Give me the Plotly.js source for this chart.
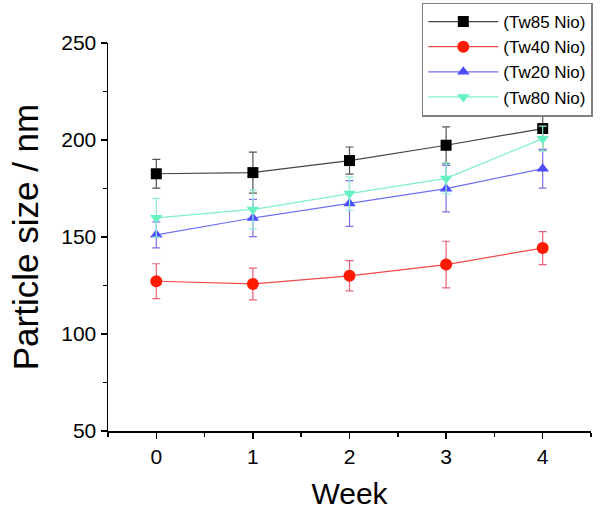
<!DOCTYPE html>
<html>
<head>
<meta charset="utf-8">
<script src="https://cdn.plot.ly/plotly-3.0.1.min.js"></script>
<style>html,body{margin:0;padding:0;background:#fff;}#chart{width:600px;height:514px;}</style>
</head>
<body>
<div id="chart"></div>
<script>
var weeks = [0, 1, 2, 3, 4];
var seriesNames = ["(Tw85 Nio)", "(Tw40 Nio)", "(Tw20 Nio)", "(Tw80 Nio)"];
var tw85 = [182.6, 183.2, 189.4, 197.3, 205.9];
var tw85Err = [7.4, 10.6, 7.0, 9.5, 11.0];
var tw40 = [127.2, 125.8, 130.0, 135.8, 144.3];
var tw40Err = [9.0, 8.2, 7.8, 12.0, 8.5];
var tw20 = [151.1, 159.8, 167.3, 174.9, 185.2];
var tw20Err = [6.7, 9.6, 11.8, 12.0, 10.0];
var tw80 = [159.9, 164.2, 172.4, 180.2, 200.7];
var tw80Err = [10.0, 10.0, 8.6, 8.0, 6.5];

var markerColors = ["#000000", "#ff1a00", "#4d4dff", "#66f2c0"];
var lineColors = ["#444444", "#f04a4a", "#7070f0", "#7ff0c8"];
var errColors = ["#555555", "#e8607a", "#7a70e8", "#8ff0d0"];
var symbols = ["square", "circle", "triangle-up", "triangle-down"];
var values = [tw85, tw40, tw20, tw80];
var errs = [tw85Err, tw40Err, tw20Err, tw80Err];

var traces = values.map(function (v, i) {
  return {
    x: weeks, y: v, name: seriesNames[i], type: "scatter", mode: "lines+markers",
    line: {color: lineColors[i], width: 1.2},
    marker: {color: markerColors[i], symbol: symbols[i], size: i === 1 ? 12 : 11, line: {width: 0}},
    error_y: {type: "data", array: errs[i], visible: true, color: errColors[i], thickness: 1.2, width: 4}
  };
});

var font = "Liberation Sans, Arial, sans-serif";
var layout = {
  width: 600, height: 514,
  margin: {l: 108, r: 9, t: 43, b: 83, autoexpand: false},
  paper_bgcolor: "#fff", plot_bgcolor: "#fff",
  font: {family: font, color: "#000"},
  showlegend: true,
  legend: {
    xref: "container", yref: "container",
    x: 0.988, y: 0.995, xanchor: "right", yanchor: "top",
    bordercolor: "#808080", borderwidth: 1.5, bgcolor: "#fff",
    font: {size: 17, family: font, color: "#000"},
    tracegroupgap: 0, itemwidth: 70
  },
  xaxis: {
    range: [-0.5, 4.5], tickvals: weeks, ticktext: weeks.map(String),
    showgrid: false, zeroline: false, showline: true, linecolor: "#000", linewidth: 1.5,
    ticks: "outside", ticklen: 6, tickwidth: 1.5, tickcolor: "#000",
    tickfont: {size: 21, family: font},
    minor: {dtick: 0.5, tick0: 0.5, ticks: "outside", ticklen: 4, tickwidth: 1.5, tickcolor: "#000"},
    title: {text: "Week", font: {size: 30, family: font}, standoff: 16}
  },
  yaxis: {
    range: [50, 250], tickvals: [50, 100, 150, 200, 250],
    showgrid: false, zeroline: false, showline: true, linecolor: "#000", linewidth: 1.5,
    ticks: "outside", ticklen: 6, tickwidth: 1.5, tickcolor: "#000",
    tickfont: {size: 21, family: font},
    minor: {dtick: 25, ticks: "outside", ticklen: 4, tickwidth: 1.5, tickcolor: "#000"},
    title: {text: "Particle size / nm", font: {size: 35, family: font}, standoff: 12}
  }
};
Plotly.newPlot("chart", traces, layout, {displayModeBar: false, staticPlot: true});
</script>
</body>
</html>
